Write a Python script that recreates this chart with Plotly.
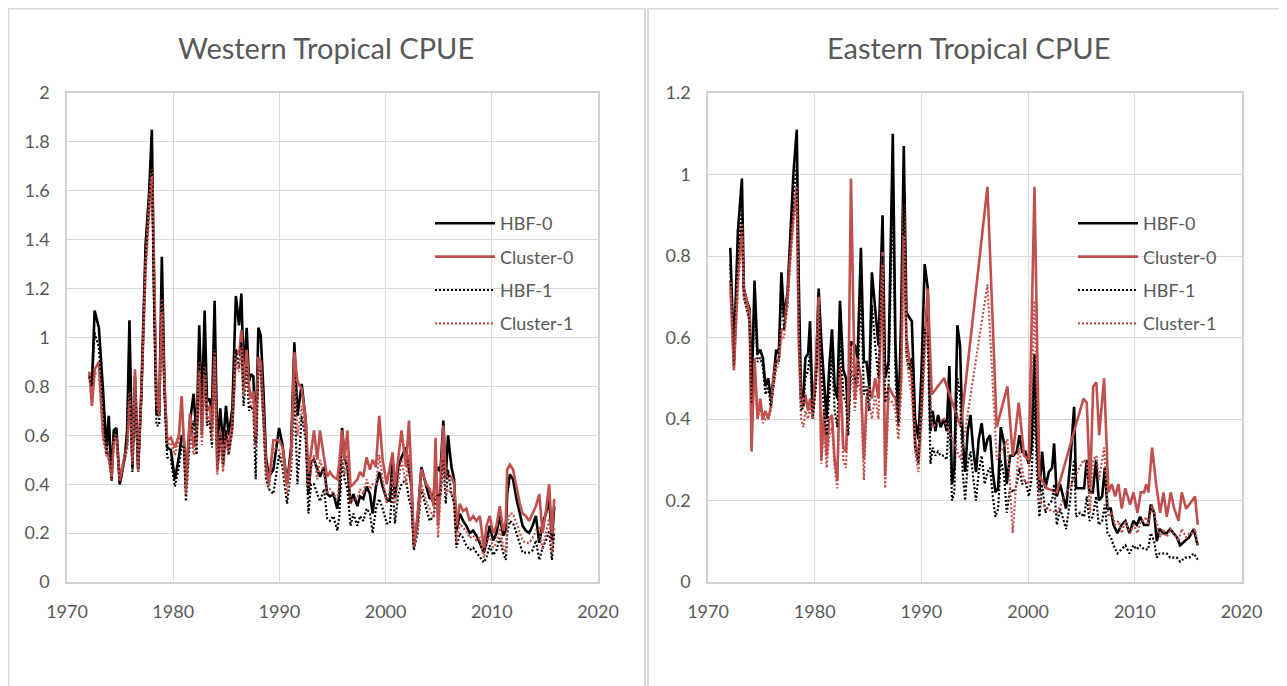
import plotly.graph_objects as go

# ---------------- Western Tropical CPUE ----------------
west_x = [
    1972.10, 1972.35, 1972.60, 1973.00, 1973.40, 1973.70, 1973.93, 1974.20, 1974.40, 1974.65,
    1974.97, 1975.44, 1975.66, 1975.88, 1976.16, 1976.40, 1976.70, 1977.00, 1977.40, 1977.74,
    1977.99, 1978.20, 1978.43, 1978.68, 1978.93, 1979.18, 1979.43, 1979.78, 1980.16, 1980.53,
    1980.80, 1981.00, 1981.20, 1981.57, 1981.92, 1982.20, 1982.45, 1982.70, 1982.96, 1983.18,
    1983.43, 1983.65, 1983.90, 1984.15, 1984.43, 1984.69, 1984.97, 1985.22, 1985.57, 1985.90,
    1986.20, 1986.42, 1986.63, 1986.92, 1987.14, 1987.33, 1987.55, 1987.77, 1988.02, 1988.24,
    1988.50, 1988.74, 1989.00, 1989.43, 1989.97, 1990.30, 1990.72, 1991.10, 1991.41, 1991.70,
    1992.10, 1992.48, 1992.73, 1992.98, 1993.26, 1993.57, 1993.82, 1994.20, 1994.50, 1994.76,
    1995.08, 1995.45, 1995.64, 1995.90, 1996.14, 1996.40, 1996.70, 1996.96, 1997.34, 1997.59,
    1997.90, 1998.21, 1998.53, 1998.78, 1999.09, 1999.40, 1999.72, 2000.10, 2000.40, 2000.66,
    2000.88, 2001.19, 2001.50, 2001.91, 2002.20, 2002.44, 2002.66, 2003.00, 2003.37, 2003.84,
    2004.15, 2004.53, 2004.70, 2004.94, 2005.16, 2005.44, 2005.66, 2005.88, 2006.20, 2006.45,
    2006.67, 2006.98, 2007.30, 2007.60, 2007.92, 2008.24, 2008.55, 2008.87, 2009.25, 2009.50,
    2009.80, 2010.13, 2010.44, 2010.75, 2011.07, 2011.32, 2011.45, 2011.70, 2012.00, 2012.33,
    2012.64, 2012.90, 2013.20, 2013.52, 2013.84, 2014.15, 2014.47, 2014.78, 2015.10, 2015.40,
    2015.66, 2015.88,
]
west_hbf0 = [
    0.85, 0.81, 1.11, 1.04, 0.78, 0.55, 0.68, 0.42, 0.62, 0.63,
    0.40, 0.51, 0.62, 1.07, 0.47, 0.84, 0.46, 0.78, 1.38, 1.60,
    1.85, 1.19, 0.69, 0.68, 1.33, 0.81, 0.55, 0.54, 0.42, 0.51,
    0.60, 0.59, 0.42, 0.65, 0.77, 0.59, 1.05, 0.70, 1.11, 0.74,
    0.75, 0.70, 1.15, 0.55, 0.71, 0.56, 0.72, 0.60, 0.71, 1.17,
    1.05, 1.18, 0.85, 1.04, 0.82, 0.85, 0.84, 0.56, 1.04, 1.01,
    0.78, 0.51, 0.43, 0.46, 0.63, 0.56, 0.40, 0.55, 0.98, 0.68,
    0.81, 0.66, 0.36, 0.49, 0.50, 0.46, 0.43, 0.47, 0.36, 0.35,
    0.36, 0.30, 0.36, 0.63, 0.51, 0.47, 0.32, 0.36, 0.31, 0.35,
    0.34, 0.39, 0.36, 0.28, 0.39, 0.45, 0.39, 0.34, 0.33, 0.51,
    0.34, 0.47, 0.51, 0.55, 0.45, 0.39, 0.15, 0.25, 0.47, 0.39,
    0.34, 0.36, 0.45, 0.47, 0.45, 0.66, 0.42, 0.60, 0.47, 0.42,
    0.21, 0.28, 0.25, 0.23, 0.20, 0.21, 0.19, 0.16, 0.12, 0.16,
    0.23, 0.17, 0.20, 0.27, 0.19, 0.21, 0.36, 0.44, 0.42, 0.34,
    0.28, 0.23, 0.21, 0.20, 0.23, 0.27, 0.16, 0.24, 0.28, 0.34,
    0.17, 0.31,
]
west_cluster0 = [
    0.86, 0.72, 0.87, 0.90, 0.60, 0.55, 0.51, 0.43, 0.58, 0.60,
    0.42, 0.52, 0.56, 0.78, 0.50, 0.87, 0.47, 0.76, 1.30, 1.55,
    1.69, 1.30, 0.75, 0.70, 1.16, 0.80, 0.58, 0.59, 0.55, 0.60,
    0.76, 0.58, 0.38, 0.69, 0.55, 0.62, 0.90, 0.60, 0.88, 0.70,
    0.72, 0.62, 0.95, 0.46, 0.62, 0.48, 0.62, 0.55, 0.65, 0.95,
    0.93, 1.03, 0.80, 0.95, 0.80, 0.75, 0.78, 0.60, 0.92, 0.90,
    0.70, 0.48, 0.40, 0.58, 0.58, 0.55, 0.40, 0.52, 0.94, 0.82,
    0.79, 0.66, 0.45, 0.54, 0.62, 0.50, 0.62, 0.51, 0.43, 0.45,
    0.43, 0.42, 0.49, 0.62, 0.50, 0.62, 0.39, 0.40, 0.42, 0.45,
    0.43, 0.51, 0.46, 0.50, 0.47, 0.68, 0.50, 0.40, 0.47, 0.53,
    0.39, 0.50, 0.62, 0.47, 0.66, 0.42, 0.15, 0.27, 0.46, 0.40,
    0.38, 0.31, 0.59, 0.23, 0.42, 0.64, 0.43, 0.44, 0.43, 0.40,
    0.23, 0.32, 0.29, 0.30, 0.25, 0.27, 0.25, 0.27, 0.14, 0.23,
    0.27, 0.20, 0.23, 0.31, 0.21, 0.25, 0.46, 0.48, 0.46, 0.38,
    0.32, 0.28, 0.27, 0.25, 0.28, 0.31, 0.36, 0.20, 0.29, 0.40,
    0.20, 0.34,
]
west_hbf1 = [
    0.84, 0.80, 1.02, 0.96, 0.72, 0.52, 0.62, 0.41, 0.60, 0.61,
    0.40, 0.50, 0.58, 0.90, 0.45, 0.80, 0.45, 0.75, 1.32, 1.55,
    1.72, 1.10, 0.64, 0.64, 1.20, 0.75, 0.51, 0.50, 0.39, 0.47,
    0.56, 0.55, 0.33, 0.58, 0.66, 0.52, 0.92, 0.60, 0.95, 0.64,
    0.66, 0.55, 1.00, 0.46, 0.60, 0.47, 0.62, 0.52, 0.62, 0.95,
    0.88, 0.98, 0.72, 0.88, 0.70, 0.72, 0.70, 0.42, 0.88, 0.86,
    0.66, 0.42, 0.38, 0.36, 0.52, 0.47, 0.32, 0.46, 0.78, 0.40,
    0.68, 0.58, 0.28, 0.40, 0.40, 0.36, 0.33, 0.38, 0.26, 0.25,
    0.27, 0.21, 0.27, 0.50, 0.42, 0.38, 0.23, 0.28, 0.23, 0.27,
    0.25, 0.30, 0.28, 0.20, 0.30, 0.34, 0.30, 0.24, 0.24, 0.40,
    0.24, 0.36, 0.40, 0.42, 0.34, 0.30, 0.13, 0.20, 0.38, 0.30,
    0.25, 0.27, 0.34, 0.36, 0.35, 0.50, 0.32, 0.46, 0.36, 0.32,
    0.14, 0.20, 0.18, 0.15, 0.13, 0.14, 0.12, 0.10, 0.08, 0.10,
    0.15, 0.11, 0.13, 0.18, 0.12, 0.09, 0.20, 0.25, 0.24, 0.20,
    0.16, 0.12, 0.12, 0.12, 0.13, 0.17, 0.09, 0.14, 0.17, 0.21,
    0.09, 0.20,
]
west_cluster1 = [
    0.85, 0.72, 0.85, 0.86, 0.58, 0.52, 0.50, 0.42, 0.56, 0.58,
    0.41, 0.50, 0.54, 0.74, 0.48, 0.84, 0.45, 0.74, 1.26, 1.50,
    1.66, 1.25, 0.72, 0.68, 1.10, 0.77, 0.56, 0.57, 0.52, 0.58,
    0.72, 0.56, 0.36, 0.64, 0.52, 0.58, 0.86, 0.56, 0.84, 0.66,
    0.68, 0.58, 0.92, 0.44, 0.58, 0.45, 0.58, 0.52, 0.62, 0.90,
    0.86, 0.96, 0.76, 0.90, 0.76, 0.72, 0.74, 0.55, 0.88, 0.86,
    0.66, 0.45, 0.38, 0.55, 0.54, 0.50, 0.36, 0.48, 0.86, 0.60,
    0.72, 0.60, 0.38, 0.46, 0.52, 0.42, 0.50, 0.44, 0.36, 0.38,
    0.36, 0.34, 0.40, 0.55, 0.44, 0.52, 0.32, 0.34, 0.34, 0.38,
    0.36, 0.42, 0.38, 0.40, 0.40, 0.52, 0.42, 0.32, 0.38, 0.44,
    0.32, 0.42, 0.50, 0.40, 0.52, 0.35, 0.14, 0.22, 0.40, 0.33,
    0.30, 0.26, 0.48, 0.18, 0.34, 0.52, 0.36, 0.38, 0.36, 0.34,
    0.16, 0.24, 0.22, 0.21, 0.18, 0.19, 0.17, 0.18, 0.10, 0.16,
    0.19, 0.14, 0.16, 0.22, 0.15, 0.12, 0.24, 0.28, 0.28, 0.24,
    0.21, 0.17, 0.16, 0.16, 0.18, 0.21, 0.22, 0.13, 0.20, 0.26,
    0.12, 0.22,
]

# ---------------- Eastern Tropical CPUE ----------------
east_hbf_x = [
    1972.09, 1972.43, 1972.80, 1973.18, 1973.36, 1973.64, 1973.90, 1974.08, 1974.36, 1974.64,
    1974.89, 1975.14, 1975.39, 1975.64, 1975.89, 1976.14, 1976.39, 1976.64, 1976.88, 1977.13,
    1977.45, 1977.70, 1978.00, 1978.32, 1978.50, 1978.72, 1978.94, 1979.13, 1979.38, 1979.56,
    1979.81, 1980.12, 1980.37, 1980.62, 1980.87, 1981.12, 1981.37, 1981.62, 1981.87, 1982.12,
    1982.37, 1982.68, 1982.93, 1983.15, 1983.40, 1983.77, 1984.02, 1984.33, 1984.61, 1984.86,
    1985.11, 1985.36, 1985.67, 1985.98, 1986.36, 1986.60, 1986.92, 1987.32, 1987.57, 1987.85,
    1988.10, 1988.35, 1988.60, 1988.85, 1989.10, 1989.41, 1989.72, 1990.00, 1990.31, 1990.60,
    1990.85, 1991.06, 1991.31, 1991.56, 1991.81, 1992.12, 1992.37, 1992.62, 1992.87, 1993.09,
    1993.37, 1993.62, 1993.87, 1994.10, 1994.34, 1994.60, 1994.84, 1995.12, 1995.37, 1995.65,
    1995.94, 1996.19, 1996.44, 1996.69, 1996.94, 1997.19, 1997.44, 1997.75, 1998.00, 1998.31,
    1998.62, 1998.94, 1999.19, 1999.44, 1999.75, 2000.06, 2000.31, 2000.60, 2000.81, 2001.06,
    2001.31, 2001.62, 2001.94, 2002.25, 2002.44, 2002.69, 2003.00, 2003.56, 2003.94, 2004.31,
    2004.50, 2004.87, 2005.25, 2005.50, 2005.75, 2006.06, 2006.37, 2006.62, 2006.94, 2007.19,
    2007.44, 2007.75, 2008.00, 2008.37, 2008.75, 2009.12, 2009.50, 2009.87, 2010.19, 2010.50,
    2010.87, 2011.25, 2011.50, 2011.81, 2012.06, 2012.31, 2012.69, 2013.00, 2013.31, 2013.62,
    2013.94, 2014.25, 2014.72, 2015.10, 2015.52, 2015.90,
]
east_hbf0 = [
    0.82, 0.55, 0.86, 0.99, 0.72, 0.69, 0.67, 0.45, 0.74, 0.56,
    0.57, 0.55, 0.48, 0.50, 0.45, 0.50, 0.57, 0.56, 0.76, 0.65,
    0.71, 0.84, 1.00, 1.11, 0.75, 0.45, 0.46, 0.55, 0.56, 0.64,
    0.42, 0.52, 0.72, 0.59, 0.48, 0.40, 0.53, 0.62, 0.48, 0.45,
    0.69, 0.52, 0.50, 0.40, 0.59, 0.58, 0.55, 0.82, 0.54, 0.54,
    0.48, 0.76, 0.67, 0.58, 0.90, 0.50, 0.54, 1.10, 0.58, 0.39,
    0.65, 1.07, 0.66, 0.65, 0.64, 0.40, 0.35, 0.51, 0.78, 0.72,
    0.37, 0.42, 0.37, 0.41, 0.38, 0.40, 0.37, 0.53, 0.24, 0.28,
    0.63, 0.58, 0.35, 0.27, 0.37, 0.41, 0.33, 0.27, 0.35, 0.39,
    0.32, 0.35, 0.36, 0.27, 0.22, 0.23, 0.38, 0.34, 0.24, 0.31,
    0.31, 0.32, 0.36, 0.32, 0.32, 0.29, 0.33, 0.56, 0.36, 0.22,
    0.32, 0.23, 0.27, 0.28, 0.34, 0.21, 0.24, 0.18, 0.29, 0.43,
    0.23, 0.23, 0.23, 0.30, 0.22, 0.22, 0.30, 0.20, 0.21, 0.28,
    0.18, 0.18, 0.14, 0.12, 0.14, 0.15, 0.12, 0.15, 0.14, 0.16,
    0.14, 0.14, 0.19, 0.17, 0.10, 0.13, 0.12, 0.12, 0.13, 0.12,
    0.11, 0.09, 0.10, 0.11, 0.13, 0.09,
]
east_hbf1 = [
    0.78, 0.53, 0.80, 0.92, 0.70, 0.67, 0.64, 0.44, 0.70, 0.54,
    0.55, 0.53, 0.46, 0.48, 0.43, 0.48, 0.54, 0.54, 0.72, 0.62,
    0.68, 0.80, 0.95, 1.02, 0.68, 0.42, 0.43, 0.50, 0.52, 0.56,
    0.40, 0.48, 0.68, 0.52, 0.42, 0.36, 0.46, 0.56, 0.42, 0.38,
    0.60, 0.46, 0.44, 0.36, 0.52, 0.50, 0.48, 0.72, 0.46, 0.48,
    0.42, 0.68, 0.58, 0.50, 0.80, 0.44, 0.48, 0.98, 0.50, 0.38,
    0.56, 0.95, 0.56, 0.52, 0.55, 0.33, 0.29, 0.42, 0.62, 0.60,
    0.29, 0.33, 0.31, 0.32, 0.31, 0.31, 0.30, 0.42, 0.20, 0.22,
    0.50, 0.46, 0.27, 0.20, 0.29, 0.32, 0.26, 0.20, 0.27, 0.31,
    0.24, 0.27, 0.28, 0.21, 0.16, 0.18, 0.30, 0.26, 0.17, 0.23,
    0.22, 0.24, 0.28, 0.24, 0.25, 0.21, 0.25, 0.44, 0.28, 0.16,
    0.24, 0.17, 0.19, 0.20, 0.24, 0.14, 0.18, 0.13, 0.20, 0.30,
    0.16, 0.17, 0.16, 0.21, 0.15, 0.16, 0.21, 0.14, 0.15, 0.19,
    0.12, 0.11, 0.09, 0.07, 0.08, 0.09, 0.07, 0.09, 0.08, 0.09,
    0.08, 0.08, 0.12, 0.10, 0.06, 0.07, 0.07, 0.07, 0.06, 0.06,
    0.06, 0.05, 0.06, 0.06, 0.07, 0.055,
]
east_cluster_x = [
    1972.09, 1972.43, 1972.80, 1973.18, 1973.36, 1973.64, 1973.90, 1974.08, 1974.36, 1974.64,
    1974.89, 1975.14, 1975.39, 1975.64, 1975.89, 1976.14, 1976.39, 1976.64, 1976.88, 1977.13,
    1977.45, 1977.70, 1978.00, 1978.32, 1978.50, 1978.72, 1978.94, 1979.13, 1979.38, 1979.56,
    1979.81, 1980.12, 1980.37, 1980.62, 1980.87, 1981.12, 1981.37, 1981.62, 1981.87, 1982.12,
    1982.37, 1982.68, 1982.93, 1983.15, 1983.40, 1983.77, 1984.02, 1984.33, 1984.61, 1984.86,
    1985.11, 1985.36, 1985.67, 1985.98, 1986.36, 1986.60, 1986.92, 1987.32, 1987.57, 1987.85,
    1988.10, 1988.35, 1988.60, 1988.85, 1989.10, 1989.41, 1989.72, 1990.00, 1990.31, 1990.60,
    1990.97, 1992.12, 1993.69, 1996.19, 1997.06, 1998.06, 1998.56, 1999.12, 1999.62, 2000.06,
    2000.60, 2001.06, 2001.75, 2002.69, 2005.19, 2005.50, 2005.81, 2006.10, 2006.40, 2006.66,
    2007.12, 2007.53, 2007.84, 2008.16, 2008.47, 2008.78, 2009.10, 2009.56, 2009.87, 2010.25,
    2010.56, 2010.87, 2011.06, 2011.28, 2011.62, 2012.00, 2012.37, 2012.69, 2013.00, 2013.37,
    2013.69, 2014.10, 2014.40, 2014.81, 2015.10, 2015.40, 2015.65, 2015.90,
]
east_cluster0 = [
    0.74, 0.52, 0.75, 0.88, 0.72, 0.69, 0.66, 0.32, 0.55, 0.40,
    0.45, 0.40, 0.42, 0.40, 0.43, 0.50, 0.54, 0.55, 0.62, 0.62,
    0.70, 0.80, 0.90, 0.97, 0.60, 0.45, 0.43, 0.46, 0.42, 0.45,
    0.42, 0.52, 0.70, 0.30, 0.42, 0.31, 0.40, 0.41, 0.30, 0.25,
    0.53, 0.33, 0.32, 0.45, 0.99, 0.45, 0.55, 0.50, 0.30, 0.45,
    0.48, 0.45, 0.50, 0.45, 0.81, 0.26, 0.48, 0.46, 0.45, 0.40,
    0.50, 0.93, 0.60, 0.55, 0.50, 0.35, 0.30, 0.42, 0.60, 0.72,
    0.46, 0.50, 0.38, 0.97, 0.38, 0.48, 0.31, 0.44, 0.31, 0.30,
    0.97, 0.26, 0.23, 0.22, 0.45, 0.44, 0.23, 0.48, 0.49, 0.36,
    0.50, 0.22, 0.24, 0.21, 0.24, 0.18, 0.23, 0.19, 0.22, 0.17,
    0.22, 0.22, 0.24, 0.22, 0.33, 0.24, 0.17, 0.22, 0.16, 0.22,
    0.18, 0.15, 0.22, 0.18, 0.19, 0.20, 0.21, 0.14,
]
east_cluster1 = [
    0.72, 0.52, 0.72, 0.85, 0.70, 0.67, 0.64, 0.33, 0.55, 0.40,
    0.43, 0.39, 0.40, 0.40, 0.42, 0.48, 0.52, 0.54, 0.60, 0.60,
    0.68, 0.78, 0.88, 0.94, 0.58, 0.40, 0.38, 0.42, 0.40, 0.43,
    0.40, 0.50, 0.68, 0.29, 0.38, 0.28, 0.36, 0.38, 0.28, 0.23,
    0.50, 0.30, 0.28, 0.42, 0.58, 0.42, 0.50, 0.46, 0.25, 0.42,
    0.44, 0.40, 0.46, 0.40, 0.78, 0.23, 0.45, 0.44, 0.42, 0.35,
    0.46, 0.85, 0.55, 0.50, 0.46, 0.32, 0.27, 0.38, 0.55, 0.64,
    0.38, 0.40, 0.30, 0.73, 0.30, 0.35, 0.12, 0.33, 0.25, 0.24,
    0.69, 0.20, 0.18, 0.17, 0.30, 0.29, 0.17, 0.30, 0.31, 0.25,
    0.33, 0.16, 0.17, 0.14, 0.15, 0.12, 0.15, 0.12, 0.14, 0.12,
    0.15, 0.15, 0.16, 0.14, 0.19, 0.15, 0.11, 0.13, 0.11, 0.13,
    0.12, 0.10, 0.13, 0.11, 0.12, 0.12, 0.13, 0.09,
]

series_names = ["HBF-0", "Cluster-0", "HBF-1", "Cluster-1"]
titles = ["Western Tropical CPUE", "Eastern Tropical CPUE"]
x_ticks = [1970, 1980, 1990, 2000, 2010, 2020]

for name, xs, ys in [
    ("west_hbf0", west_x, west_hbf0), ("west_cluster0", west_x, west_cluster0),
    ("west_hbf1", west_x, west_hbf1), ("west_cluster1", west_x, west_cluster1),
    ("east_hbf0", east_hbf_x, east_hbf0), ("east_hbf1", east_hbf_x, east_hbf1),
    ("east_cluster0", east_cluster_x, east_cluster0), ("east_cluster1", east_cluster_x, east_cluster1),
]:
    if len(xs) != len(ys):
        raise SystemExit(f"length mismatch {name}: {len(xs)} vs {len(ys)}")

BLACK = "#000000"
RED = "#C0504D"
FONT = "Lato, 'Open Sans', sans-serif"
GREY = "#595959"
W, H = 1287, 686
OFF = 8  # page body margin offset

styles = {
    "HBF-0": dict(color=BLACK, width=2.6),
    "Cluster-0": dict(color=RED, width=2.6),
    "HBF-1": dict(color=BLACK, width=2.2, dash="2px,2px"),
    "Cluster-1": dict(color=RED, width=2.2, dash="2px,2px"),
}

fig = go.Figure()
panels = [
    ("x", "y", "legend", [(west_x, west_hbf0), (west_x, west_cluster0), (west_x, west_hbf1), (west_x, west_cluster1)]),
    ("x2", "y2", "legend2", [(east_hbf_x, east_hbf0), (east_cluster_x, east_cluster0), (east_hbf_x, east_hbf1), (east_cluster_x, east_cluster1)]),
]
for pi, (xa, ya, lg, data) in enumerate(panels):
    for si, (xs, ys) in enumerate(data):
        nm = series_names[si]
        fig.add_trace(go.Scatter(
            x=xs, y=ys, mode="lines", name=nm, line=styles[nm],
            xaxis=xa, yaxis=ya, legend=lg, legendgroup=f"p{pi}s{si}",
            hoverinfo="skip",
        ))

def px_x(p):
    return (p - OFF) / W

def px_y(p):
    return (H - (p - OFF)) / H

axis_common = dict(
    showgrid=True, gridcolor="#d9d9d9", gridwidth=1, automargin=False,
    zeroline=False, showline=True, linecolor="#d0d0d0", linewidth=1.5, mirror=True,
    ticks="", tickfont=dict(family=FONT, size=18, color=GREY),
)

legend_common = dict(
    xanchor="left", yanchor="top",
    font=dict(family=FONT, size=18, color=GREY), bgcolor="rgba(0,0,0,0)",
    tracegroupgap=7, itemwidth=60,
)

fig.update_layout(
    width=W, height=H, margin=dict(l=0, r=0, t=0, b=0, pad=0, autoexpand=False),
    paper_bgcolor="white", plot_bgcolor="white",
    showlegend=True,
    xaxis=dict(domain=[px_x(67), px_x(598)], range=[1970, 2020], tickvals=x_ticks,
               ticklabelstandoff=13, anchor="y", **axis_common),
    yaxis=dict(domain=[px_y(582), px_y(93)], range=[0, 2], dtick=0.2, tick0=0,
               ticklabelstandoff=12, anchor="x", **axis_common),
    xaxis2=dict(domain=[px_x(708), px_x(1241.5)], range=[1970, 2020], tickvals=x_ticks,
                ticklabelstandoff=13, anchor="y2", **axis_common),
    yaxis2=dict(domain=[px_y(582), px_y(93)], range=[0, 1.2], dtick=0.2, tick0=0,
                ticklabelstandoff=12, anchor="x2", **axis_common),
    legend=dict(x=px_x(430), y=px_y(205), **legend_common),
    legend2=dict(x=px_x(1073), y=px_y(205), **legend_common),
    annotations=[
        dict(text=titles[0], x=px_x(326), y=px_y(47), xref="paper", yref="paper",
             xanchor="center", yanchor="middle",
             showarrow=False, font=dict(family=FONT, size=29, color=GREY)),
        dict(text=titles[1], x=px_x(968), y=px_y(47), xref="paper", yref="paper",
             xanchor="center", yanchor="middle",
             showarrow=False, font=dict(family=FONT, size=29, color=GREY)),
    ],
    shapes=[
        dict(type="rect", xref="paper", yref="paper", x0=px_x(8.5), x1=px_x(645),
             y0=-0.05, y1=px_y(8.5), line=dict(color="#d9d9d9", width=2), layer="below"),
        dict(type="rect", xref="paper", yref="paper", x0=px_x(648), x1=px_x(1283),
             y0=-0.05, y1=px_y(8.5), line=dict(color="#d9d9d9", width=2), layer="below"),
    ],
)

fig.write_html("out.html", config={"displayModeBar": False})
